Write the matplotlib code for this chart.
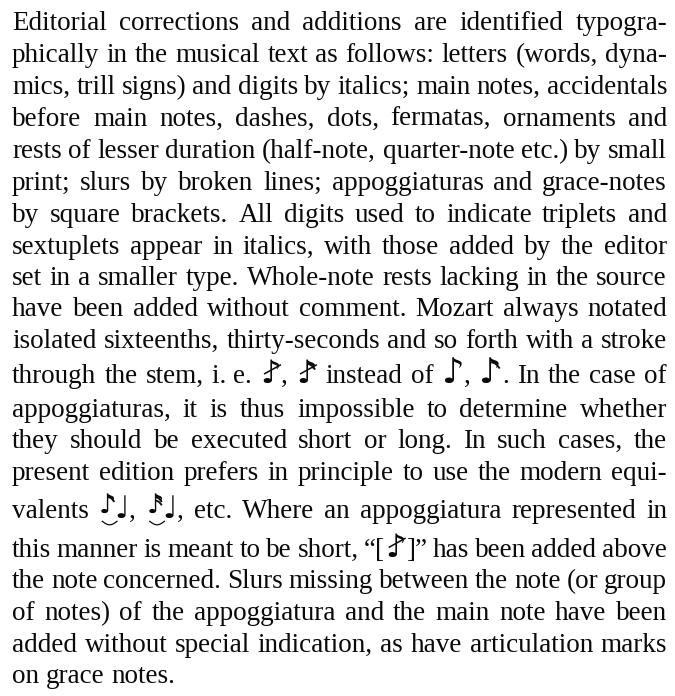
import re
import numpy as np
import matplotlib
matplotlib.use("Agg")
import matplotlib.pyplot as plt
from matplotlib import font_manager
from matplotlib.ft2font import FT2Font

# ---------------- text content ----------------
lines = [
    "Editorial corrections and additions are identified typogra-",
    "phically in the musical text as follows: letters (words, dyna-",
    "mics, trill signs) and digits by italics; main notes, accidentals",
    "before main notes, dashes, dots, fermatas, ornaments and",
    "rests of lesser duration (half-note, quarter-note etc.) by small",
    "print; slurs by broken lines; appoggiaturas and grace-notes",
    "by square brackets. All digits used to indicate triplets and",
    "sextuplets appear in italics, with those added by the editor",
    "set in a smaller type. Whole-note rests lacking in the source",
    "have been added without comment. Mozart always notated",
    "isolated sixteenths, thirty-seconds and so forth with a stroke",
    "through the stem, i.\u00a0e. <g8s>, <g16s> instead of <n8>, <n16>. In the case of",
    "appoggiaturas, it is thus impossible to determine whether",
    "they should be executed short or long. In such cases, the",
    "present edition prefers in principle to use the modern equi-",
    "valents <ap16>, <ap32>, etc. Where an appoggiatura represented in",
    "this manner is meant to be short, \u201c[<g8s>]\u201d has been added above",
    "the note concerned. Slurs missing between the note (or group",
    "of notes) of the appoggiatura and the main note have been",
    "added without special indication, as have articulation marks",
    "on grace notes.",
]

# ---------------- layout ----------------
W_PX, H_PX = 675, 696
LEFT, RIGHT = 12, 667
baselines = [30.5, 62.4, 94.4, 126.3, 158.2, 190.2, 222.1, 253.5, 284.6, 316.3,
             348.3, 383.3, 416.7, 448.3, 480.0, 518.3, 556.7, 588.3, 620.0,
             651.7, 683.3]
SERIF = "Liberation Serif"
MUSIC = "DejaVu Sans"
COLOR = "#0a0a0a"


def has_glyph(family, cp):
    try:
        path = font_manager.findfont(font_manager.FontProperties(family=family),
                                     fallback_to_default=False)
        return cp in FT2Font(path).get_charmap()
    except Exception:
        return False


E8 = "\U0001D160" if has_glyph(MUSIC, 0x1D160) else "\u266A"
QN = "\U0001D15F" if has_glyph(MUSIC, 0x1D15F) else "\u2669"

fig = plt.figure(figsize=(W_PX / 100, H_PX / 100), dpi=100)
fig.patch.set_facecolor("white")
ax = fig.add_axes([0, 0, 1, 1])
ax.set_xlim(0, W_PX)
ax.set_ylim(H_PX, 0)
ax.axis("off")
renderer = fig.canvas.get_renderer()


def text_width(s, family, size):
    t = ax.text(0, 0, s, family=family, fontsize=size)
    w = t.get_window_extent(renderer=renderer).width
    t.remove()
    return w


def extra_flags(x, y, w, h, n):
    # additional flags for sixteenth / thirty-second notes, drawn below the first
    for k in range(1, n):
        x0 = x + 0.52 * w
        y0 = y - h * (0.92 - 0.16 * k)
        t = np.linspace(0, 1, 12)
        ax.plot(x0 + t * 0.38 * w, y0 + t * 0.22 * h - 0.06 * h * np.sin(np.pi * t),
                color=COLOR, lw=1.3, solid_capstyle="butt")


def symbol(name, x, y, fs, draw):
    """Draw (or measure) a music symbol; returns its width in px."""
    stroke = False
    slur = False
    if name == "n8":
        parts = [(E8, 1.3, 0, 1)]
    elif name == "n16":
        parts = [(E8, 1.3, 0, 2)]
    elif name == "g8s":
        parts = [(E8, 1.2, 0, 1)]
        stroke = True
    elif name == "g16s":
        parts = [(E8, 1.2, 0, 2)]
        stroke = True
    elif name == "ap16":
        parts = [(E8, 1.0, -5, 2), (QN, 1.15, 0, 1)]
        slur = True
    elif name == "ap32":
        parts = [(E8, 1.0, -5, 3), (QN, 1.15, 0, 1)]
        slur = True
    else:
        parts = []
    cx = x
    first_w = 0
    for i, (g, f, dy, nflag) in enumerate(parts):
        size = fs * f
        w = text_width(g, MUSIC, size)
        if draw:
            ax.text(cx, y + dy, g, family=MUSIC, fontsize=size, color=COLOR,
                    va="baseline", ha="left")
            if nflag > 1:
                extra_flags(cx, y + dy, w, size * 100 / 72 * 0.78, nflag)
        if i == 0:
            first_w = w
        cx += w * (0.92 if len(parts) > 1 and i == 0 else 1.0)
    total = cx - x
    if draw and stroke:
        h = fs * 1.2 * 100 / 72 * 0.78
        ax.plot([x + 0.2 * total, x + 0.95 * total],
                [y - 0.38 * h, y - 0.72 * h], color=COLOR, lw=1.1)
    if draw and slur:
        t = np.linspace(0, 1, 20)
        xs = x + 0.2 * first_w + t * (0.85 * first_w)
        ys = y + 3 + 3.5 * np.sin(np.pi * t)
        ax.plot(xs, ys, color=COLOR, lw=0.9)
    return total


def parse(word):
    return [p for p in re.split(r"(<[a-z0-9]+>)", word) if p]


def word_width(word, fs, draw=False, x=0, y=0):
    cx = x
    for p in parse(word):
        if p.startswith("<"):
            cx += symbol(p[1:-1], cx, y, fs, draw)
        else:
            w = text_width(p, SERIF, fs)
            if draw:
                ax.text(cx, y, p, family=SERIF, fontsize=fs, color=COLOR,
                        va="baseline", ha="left")
            cx += w
    return cx - x


# choose font size so that every line fits with a minimum word gap
fs = 19.5
avail = RIGHT - LEFT
while fs > 10:
    ok = True
    for ln in lines:
        words = ln.split(" ")
        tot = sum(word_width(w, fs) for w in words)
        if tot + 0.2 * fs * 100 / 72 * (len(words) - 1) > avail:
            ok = False
            break
    if ok:
        break
    fs -= 0.25

for i, (ln, yb) in enumerate(zip(lines, baselines)):
    words = ln.split(" ")
    widths = [word_width(w, fs) for w in words]
    if i == len(lines) - 1 or len(words) == 1:
        gap = 0.25 * fs * 100 / 72
    else:
        gap = (avail - sum(widths)) / (len(words) - 1)
    x = LEFT
    for w, ww in zip(words, widths):
        word_width(w, fs, draw=True, x=x, y=yb)
        x += ww + gap

fig.savefig("out.png", dpi=100, facecolor="white")
